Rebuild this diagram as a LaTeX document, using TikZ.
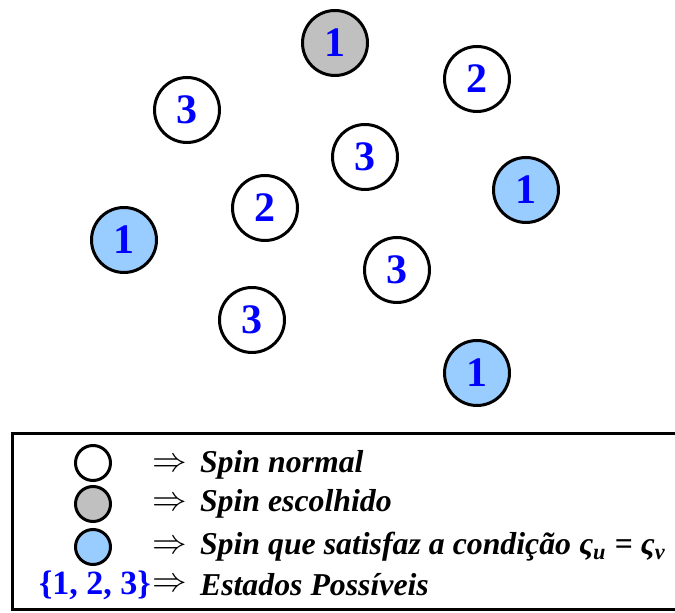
\documentclass[tikz,border=0pt]{standalone}
\usepackage{fontspec}
\setmainfont{Liberation Serif}
\definecolor{spinblue}{RGB}{0,0,255}
\definecolor{chosengray}{RGB}{192,192,192}
\definecolor{condblue}{RGB}{153,204,255}
\tikzset{
  spin/.style={circle,draw,line width=1.5pt,minimum size=32.5pt,inner sep=0pt,
    font=\fontsize{21}{21}\selectfont\bfseries,text=spinblue},
  mini/.style={ellipse,draw,line width=1.5pt,minimum width=17.5pt,minimum height=17.5pt,inner sep=0pt},
  legtext/.style={anchor=west,font=\fontsize{15.9}{17}\selectfont\bfseries\itshape}
}
\usetikzlibrary{shapes.geometric}
\begin{document}
\begin{tikzpicture}[x=0.5pt,y=-0.5pt]
\useasboundingbox (0,0) rectangle (675,613);

% spins
\node[spin,fill=chosengray] (s1) at (335,43) {1};
\node[spin] (s2) at (477,79) {2};
\node[spin] (s3) at (187,110) {3};
\node[spin] (s4) at (365,157) {3};
\node[spin,fill=condblue] (s5) at (526,190) {1};
\node[spin] (s6) at (265,208) {2};
\node[spin,fill=condblue] (s7) at (124,240) {1};
\node[spin] (s8) at (397,270) {3};
\node[spin] (s9) at (252,320) {3};
\node[spin,fill=condblue] (s10) at (477,373) {1};

% legend
\draw[line width=1.5pt] (700,434) -- (12,434) -- (12,610) -- (700,610);
\node[mini] (l1) at (93,463) {};
\node[mini,fill=chosengray] (l2) at (93,504) {};
\node[mini,fill=condblue] (l3) at (93,547) {};
\node[font=\fontsize{17}{17}\selectfont\bfseries,text=spinblue] (l4) at (95,585) {\{1, 2, 3\}};

\node[anchor=west] (a1) at (145,465) {\LARGE$\Rightarrow$};
\node[anchor=west] (a2) at (145,504) {\LARGE$\Rightarrow$};
\node[anchor=west] (a3) at (145,547) {\LARGE$\Rightarrow$};
\node[anchor=west] (a4) at (145,585) {\LARGE$\Rightarrow$};

\node[legtext] (t1) at (193,465) {Spin normal};
\node[legtext] (t2) at (193,504) {Spin escolhido};
\node[legtext] (t3) at (193,547) {Spin que satisfaz a condição ς\textsubscript{u} = ς\textsubscript{v}};
\node[legtext] (t4) at (193,585) {Estados Possíveis};
\end{tikzpicture}
\end{document}
